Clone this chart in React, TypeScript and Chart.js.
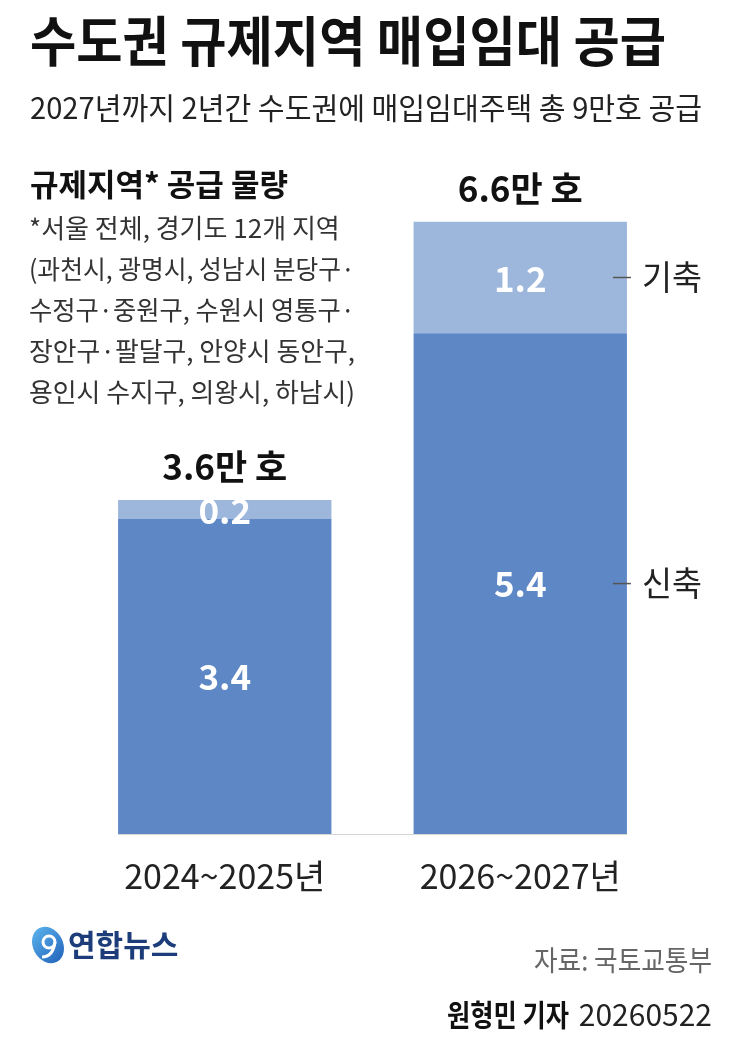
import React, { useEffect, useRef } from 'react';
import { Chart, registerables } from 'chart.js';

Chart.register(...registerables);

const categories = ['2024~2025년', '2026~2027년'];
const newBuild = [3.4, 5.4]; // 신축
const existing = [0.2, 1.2]; // 기축
const totalLabels = ['3.6만 호', '6.6만 호'];
const seriesNames = ['신축', '기축'];
const yMax = 8;

const TITLE = '수도권 규제지역 매입임대 공급';
const SUBTITLE = '2027년까지 2년간 수도권에 매입임대주택 총 9만호 공급';
const SECTION = '규제지역* 공급 물량';
const NOTES = [
  '*서울 전체, 경기도 12개 지역',
  '(과천시, 광명시, 성남시 분당구·',
  '수정구·중원구, 수원시 영통구·',
  '장안구·팔달구, 안양시 동안구,',
  '용인시 수지구, 의왕시, 하남시)',
];
const SOURCE = '자료: 국토교통부';
const BYLINE_NAME = '원형민 기자';
const BYLINE_DATE = '20260522';
const LOGO = '연합뉴스';

const FONT = '"Noto Sans CJK KR", "Noto Sans", sans-serif';
const DARK = '#5e87c5';
const LIGHT = '#9db6dc';

export default function App() {
  const ref = useRef<HTMLCanvasElement | null>(null);
  useEffect(() => {
    document.body.style.margin = '0';
    const canvas = ref.current!;
    const overlay = {
      id: 'overlay',
      beforeDraw(chart: any) {
        const ctx = chart.ctx;
        ctx.save();
        ctx.fillStyle = '#ffffff';
        ctx.fillRect(0, 0, chart.width, chart.height);
        ctx.restore();
      },
      afterDatasetsDraw(chart: any) {
        const ctx: CanvasRenderingContext2D = chart.ctx;
        const m0 = chart.getDatasetMeta(0).data;
        const m1 = chart.getDatasetMeta(1).data;
        ctx.save();
        ctx.textBaseline = 'middle';

        // Title & subtitle
        ctx.fillStyle = '#111';
        ctx.textAlign = 'left';
        ctx.font = `bold 54px ${FONT}`;
        ctx.fillText(TITLE, 30, 41, 636);
        ctx.fillStyle = '#222';
        ctx.font = `30px ${FONT}`;
        ctx.fillText(SUBTITLE, 30, 108, 672);

        // Section header & notes
        ctx.fillStyle = '#111';
        ctx.font = `bold 31px ${FONT}`;
        ctx.fillText(SECTION, 30, 184, 272);
        ctx.fillStyle = '#333';
        ctx.font = `26px ${FONT}`;
        NOTES.forEach((t, i) => ctx.fillText(t, 29, 228 + i * 41, 326));

        // baseline
        const b0 = m0[0];
        const bl = m0[m0.length - 1];
        ctx.strokeStyle = '#d6d6d6';
        ctx.lineWidth = 1;
        ctx.beginPath();
        ctx.moveTo(b0.x - b0.width / 2, b0.base + 0.5);
        ctx.lineTo(bl.x + bl.width / 2, b0.base + 0.5);
        ctx.stroke();

        // value labels, totals, categories
        for (let i = 0; i < categories.length; i++) {
          const a = m0[i];
          const b = m1[i];
          ctx.textAlign = 'center';
          ctx.fillStyle = '#ffffff';
          ctx.font = `bold 35px ${FONT}`;
          ctx.fillText(String(newBuild[i].toFixed(1)), a.x, (a.y + a.base) / 2, 64);
          ctx.fillText(String(existing[i].toFixed(1)), b.x, (b.y + b.base) / 2 + 1, 64);
          ctx.fillStyle = '#111';
          ctx.font = `bold 35px ${FONT}`;
          ctx.fillText(totalLabels[i], b.x, b.y - 33, 128);
          ctx.fillStyle = '#222';
          ctx.font = `34px ${FONT}`;
          ctx.fillText(categories[i], a.x, a.base + 42, 210);
        }

        // series labels next to last bar
        const li = categories.length - 1;
        const segs = [m0[li], m1[li]];
        segs.forEach((s: any, k: number) => {
          const right = s.x + s.width / 2;
          const y = (s.y + s.base) / 2;
          ctx.strokeStyle = '#555';
          ctx.lineWidth = 1.5;
          ctx.beginPath();
          ctx.moveTo(right - 14, y);
          ctx.lineTo(right + 4, y);
          ctx.stroke();
          ctx.fillStyle = '#222';
          ctx.textAlign = 'left';
          ctx.font = `34px ${FONT}`;
          ctx.fillText(seriesNames[k], right + 15, y, 60);
        });

        // logo
        const cx = 48, cy = 945;
        const g = ctx.createLinearGradient(cx - 18, cy - 18, cx + 18, cy + 18);
        g.addColorStop(0, '#5fb8f0');
        g.addColorStop(1, '#1f5fb8');
        ctx.fillStyle = g;
        ctx.beginPath();
        ctx.ellipse(cx, cy, 15, 19, -0.5, 0, Math.PI * 2);
        ctx.fill();
        ctx.strokeStyle = '#ffffff';
        ctx.lineWidth = 3;
        ctx.beginPath();
        ctx.arc(cx + 1, cy - 3, 6, 0, Math.PI * 2);
        ctx.stroke();
        ctx.beginPath();
        ctx.moveTo(cx + 7, cy - 3);
        ctx.quadraticCurveTo(cx + 5, cy + 12, cx - 6, cy + 12);
        ctx.stroke();
        ctx.fillStyle = '#1c3c7a';
        ctx.textAlign = 'left';
        ctx.font = `bold 30px ${FONT}`;
        ctx.fillText(LOGO, 68, 945, 122);

        // source & byline
        ctx.textAlign = 'right';
        ctx.fillStyle = '#666';
        ctx.font = `28px ${FONT}`;
        ctx.fillText(SOURCE, 712, 960, 178);
        ctx.fillStyle = '#222';
        ctx.font = `30px ${FONT}`;
        ctx.fillText(BYLINE_DATE, 712, 1015, 134);
        ctx.font = `bold 30px ${FONT}`;
        ctx.fillStyle = '#111';
        ctx.fillText(BYLINE_NAME, 712 - 134 - 9, 1015, 122);

        ctx.restore();
      },
    };

    const chart = new Chart(canvas, {
      type: 'bar',
      data: {
        labels: categories,
        datasets: [
          { label: seriesNames[0], data: newBuild, backgroundColor: DARK, borderWidth: 0 },
          { label: seriesNames[1], data: existing, backgroundColor: LIGHT, borderWidth: 0 },
        ],
      },
      options: {
        responsive: false,
        animation: false,
        devicePixelRatio: 1,
        layout: { padding: { left: 77, right: 64, top: 92, bottom: 203 } },
        plugins: { legend: { display: false }, tooltip: { enabled: false }, title: { display: false } },
        datasets: { bar: { barPercentage: 0.722, categoryPercentage: 1 } },
        scales: {
          x: { stacked: true, display: false },
          y: { stacked: true, display: false, min: 0, max: yMax },
        },
      },
      plugins: [overlay],
    });
    return () => chart.destroy();
  }, []);
  return <canvas ref={ref} width={732} height={1037} style={{ display: 'block' }} />;
}
